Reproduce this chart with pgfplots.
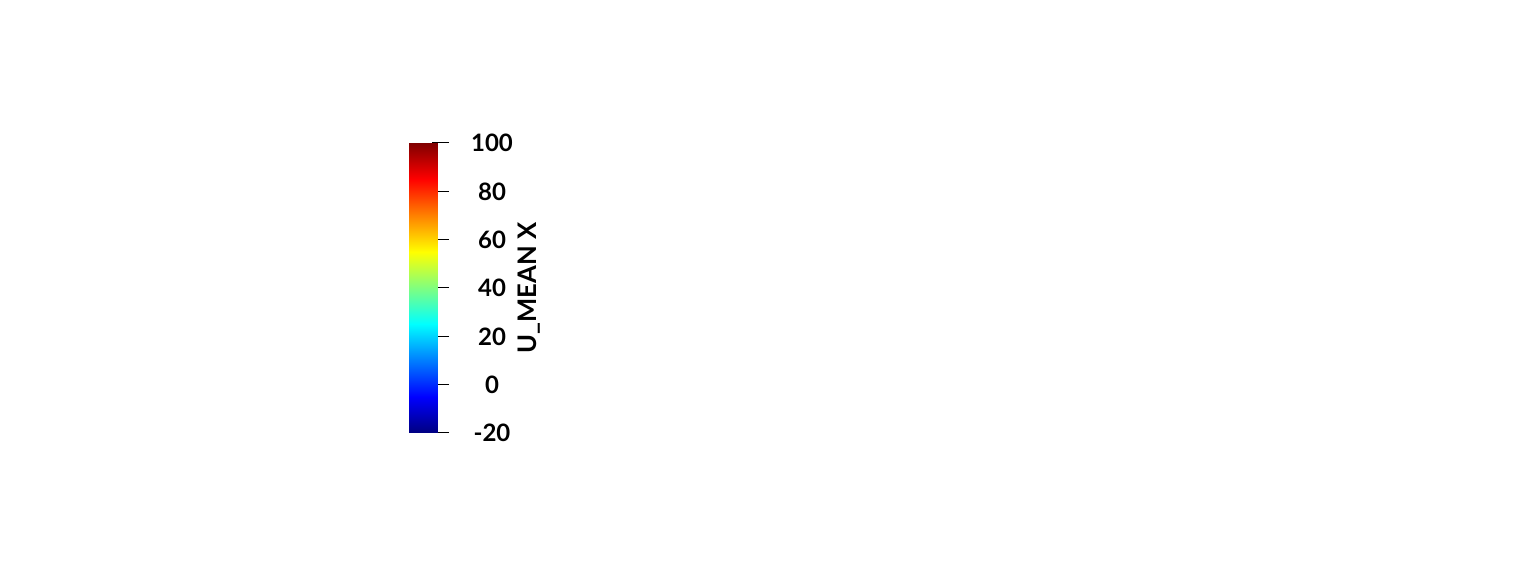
\documentclass[border=0pt]{standalone}
\usepackage{pgfplots}
\pgfplotsset{compat=1.18}
\usepackage{fontspec}
\setmainfont{Lato}
\begin{document}
\begin{tikzpicture}[x=1pt,y=1pt]
\path[use as bounding box, fill=white] (0,0) rectangle (762,291);
\begin{axis}[
  at={(204.5pt,74.5pt)}, anchor=south west,
  scale only axis, width=15.75pt, height=145pt,
  xmin=0, xmax=1.125, ymin=-20, ymax=100,
  enlargelimits=false,
  axis x line=none,
  axis y line*=right,
  y axis line style={draw=none},
  ytick={-20,0,20,40,60,80,100},
  tick align=center,
  major tick length=8.5pt,
  ytick style={black, line width=0.5pt},
  /pgf/number format/assume math mode=true,
  yticklabel style={font=\fontsize{12}{14}\selectfont\bfseries, anchor=center},
  yticklabel shift=21.5pt,
  ylabel={U\_MEAN X},
  every axis y label/.style={at={(rel axis cs:1,0.5)}, rotate=90, anchor=center, yshift=-44.5pt, font=\fontsize{12.8}{15}\selectfont\bfseries},
  colormap/jet,
  point meta min=-20, point meta max=100,
]
\addplot[surf, shader=interp, point meta=y] coordinates {
(0,-20) (1,-20)

(0,-5) (1,-5)

(0,10) (1,10)

(0,25) (1,25)

(0,40) (1,40)

(0,55) (1,55)

(0,70) (1,70)

(0,85) (1,85)

(0,100) (1,100)
};
\end{axis}
\end{tikzpicture}
\end{document}
